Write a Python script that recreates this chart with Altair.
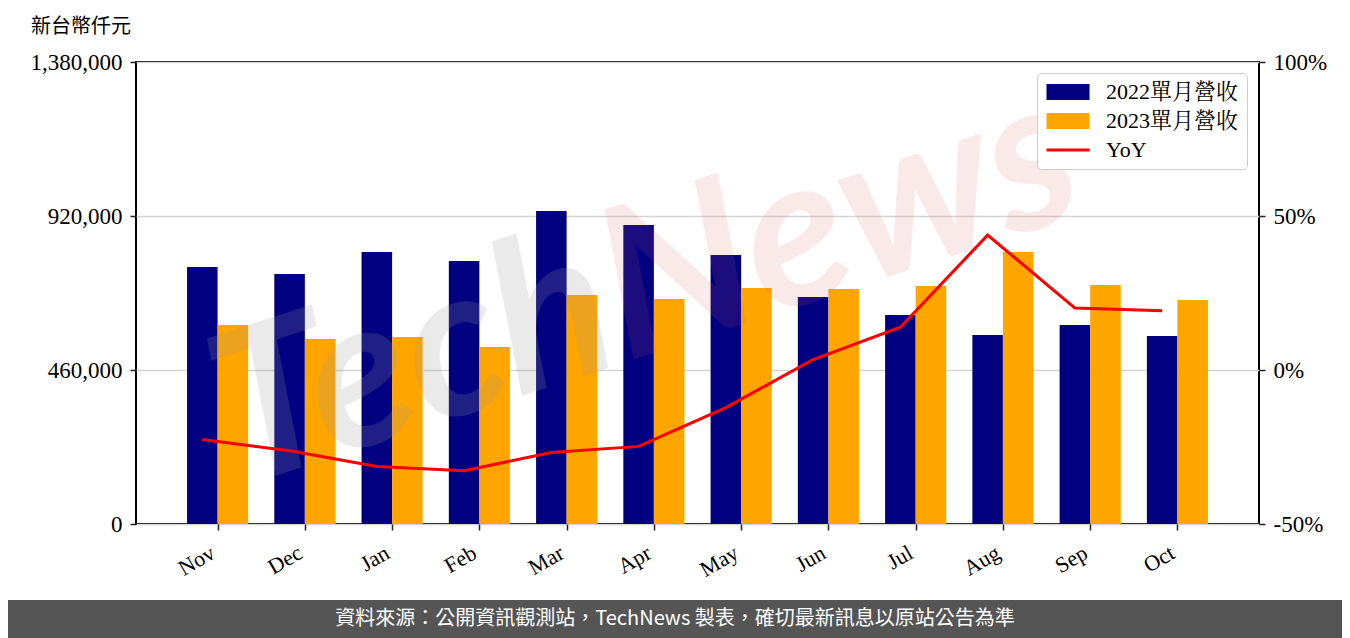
import altair as alt
import pandas as pd

# ---------------- data ----------------
months = ["Nov", "Dec", "Jan", "Feb", "Mar", "Apr", "May", "Jun", "Jul", "Aug", "Sep", "Oct"]
rev_2022 = [767700, 746800, 812500, 785600, 934900, 893100, 803500, 678000, 624300, 564500, 594400, 561600]
rev_2023 = [594400, 552600, 558600, 528700, 684000, 672100, 704900, 702000, 710900, 812500, 713900, 669100]
yoy_pct = [-22.6, -26.2, -31.3, -32.7, -26.8, -24.8, -12.2, 3.4, 13.9, 43.8, 20.1, 19.2]

series_names = ["2022單月營收", "2023單月營收", "YoY"]
series_colors = ["#000080", "#FFA500", "#FF0000"]
rev_ticks = [0, 460000, 920000, 1380000]
yoy_ticks = [-50, 0, 50, 100]
unit_title = "新台幣仟元"
footer_text = "資料來源：公開資訊觀測站，TechNews 製表，確切最新訊息以原站公告為準"
watermark_parts = ["Tech", "News"]

# ---------------- layout ----------------
W, H = 1123, 462
PAD = {"left": 128, "top": 54, "right": 83, "bottom": 114}
TOTAL_W = W + PAD["left"] + PAD["right"]

SERIF = "Liberation Serif, Noto Serif CJK TC, Noto Sans CJK TC"
CJK = "Noto Sans CJK TC"

idx = list(range(len(months)))
df = pd.DataFrame({"i": idx, "month": months, "r22": rev_2022, "r23": rev_2023, "yoy": yoy_pct})

x_scale = alt.Scale(domain=[-0.935, len(months) - 1 + 0.935], nice=False, zero=False)
label_expr = "[" + ",".join(f"'{m}'" for m in months) + "][datum.value]"
x_axis = alt.Axis(
    values=idx, labelExpr=label_expr, labelAngle=330, labelAlign="right", labelBaseline="top",
    labelFont=SERIF, labelFontSize=22, labelColor="black", labelPadding=12, labelOffset=-10,
    tickSize=6, tickColor="#222222", tickWidth=1.5, domain=False, grid=False, title=None,
)
y_scale = alt.Scale(domain=[0, 1380000], nice=False, zero=True)
y_axis = alt.Axis(
    values=rev_ticks, format=",d", labelFont=SERIF, labelFontSize=23, labelColor="black",
    labelPadding=8, tickSize=6, tickColor="#222222", tickWidth=1.5, domain=False,
    grid=True, gridColor="#d4d4d4", gridWidth=1.5, title=None,
)

base = alt.Chart(df)

bar22 = base.transform_calculate(x0="datum.i - 0.35", x1="datum.i").mark_bar(
    color=series_colors[0]
).encode(
    x=alt.X("x0:Q", scale=x_scale, axis=x_axis),
    x2="x1:Q",
    y=alt.Y("r22:Q", scale=y_scale, axis=y_axis),
    y2=alt.datum(0),
)

bar23 = base.transform_calculate(x0="datum.i", x1="datum.i + 0.35").mark_bar(
    color=series_colors[1]
).encode(
    x=alt.X("x0:Q", scale=x_scale, axis=x_axis),
    x2="x1:Q",
    y=alt.Y("r23:Q", scale=y_scale, axis=y_axis),
    y2=alt.datum(0),
)

bars = alt.layer(bar22, bar23)

line = base.transform_calculate(xl="datum.i - 0.175").mark_line(
    color=series_colors[2], strokeWidth=3
).encode(
    x=alt.X("xl:Q", scale=x_scale, axis=x_axis),
    y=alt.Y(
        "yoy:Q",
        scale=alt.Scale(domain=[yoy_ticks[0], yoy_ticks[-1]], nice=False, zero=False),
        axis=alt.Axis(
            orient="right", values=yoy_ticks, labelExpr="datum.value + '%'",
            labelFont=SERIF, labelFontSize=23, labelColor="black", labelPadding=8,
            tickSize=6, tickColor="#222222", tickWidth=1.5, domain=False, grid=False, title=None,
        ),
    ),
)

# legend built from a hidden point layer (color + shape on the same field -> one legend)
rect_path = "M-1,-0.84H3.53V0.84H-1Z"
line_path = "M-1,-0.16H3.53V0.16H-1Z"
legend_kwargs = dict(
    title=None, orient="none", legendX=901, legendY=11,
    fillColor="white", strokeColor="#cccccc", cornerRadius=4, padding=8,
    labelFont=SERIF, labelFontSize=22, labelColor="black", labelOffset=39,
    symbolSize=361, symbolStrokeWidth=0, symbolOpacity=1, rowPadding=7,
)
legend_pts = alt.Chart(pd.DataFrame({"series": series_names})).mark_point(
    filled=True, clip=True, strokeWidth=0, size=361
).encode(
    x=alt.value(-2000),
    y=alt.value(-2000),
    color=alt.Color("series:N", scale=alt.Scale(domain=series_names, range=series_colors),
                    legend=alt.Legend(**legend_kwargs)),
    shape=alt.Shape("series:N", scale=alt.Scale(domain=series_names, range=[rect_path, rect_path, line_path]),
                    legend=alt.Legend(**legend_kwargs)),
)

# watermark
wm_tech = alt.Chart(pd.DataFrame({"t": [watermark_parts[0]]})).mark_text(
    font="Lato", fontSize=210, fontStyle="italic", fontWeight="bold", angle=342,
    align="right", baseline="alphabetic", color="#9a9a9a", opacity=0.2,
).encode(text="t:N", x=alt.value(490), y=alt.value(300))
wm_news = alt.Chart(pd.DataFrame({"t": [watermark_parts[1]]})).mark_text(
    font="Lato", fontSize=210, fontStyle="italic", fontWeight="bold", angle=342,
    align="left", baseline="alphabetic", color="#e06060", opacity=0.13,
).encode(text="t:N", x=alt.value(490), y=alt.value(300))

# unit title
title_txt = alt.Chart(pd.DataFrame({"t": [unit_title]})).mark_text(
    font=CJK, fontSize=20, color="black", align="center", baseline="middle"
).encode(text="t:N", x=alt.value(-55), y=alt.value(-35))

# footer band
footer_rect = alt.Chart(pd.DataFrame({"t": [footer_text]})).mark_rect(color="#555555").encode(
    x=alt.value(-PAD["left"]), x2=alt.value(TOTAL_W - PAD["left"]),
    y=alt.value(538), y2=alt.value(H + PAD["bottom"]),
)
footer_txt = alt.Chart(pd.DataFrame({"t": [footer_text]})).mark_text(
    font=CJK, fontSize=20, color="white", align="center", baseline="middle"
).encode(text="t:N", x=alt.value(539), y=alt.value(557))

chart = alt.layer(
    bars, wm_tech, wm_news, line, legend_pts, title_txt, footer_rect, footer_txt
).resolve_scale(
    y="independent"
).properties(
    width=W, height=H, padding=PAD, autosize=alt.AutoSizeParams(type="none"),
    background="white",
).configure_view(
    stroke="black", strokeWidth=2
)

chart.save("out.html", embed_options={"renderer": "svg", "actions": False})
